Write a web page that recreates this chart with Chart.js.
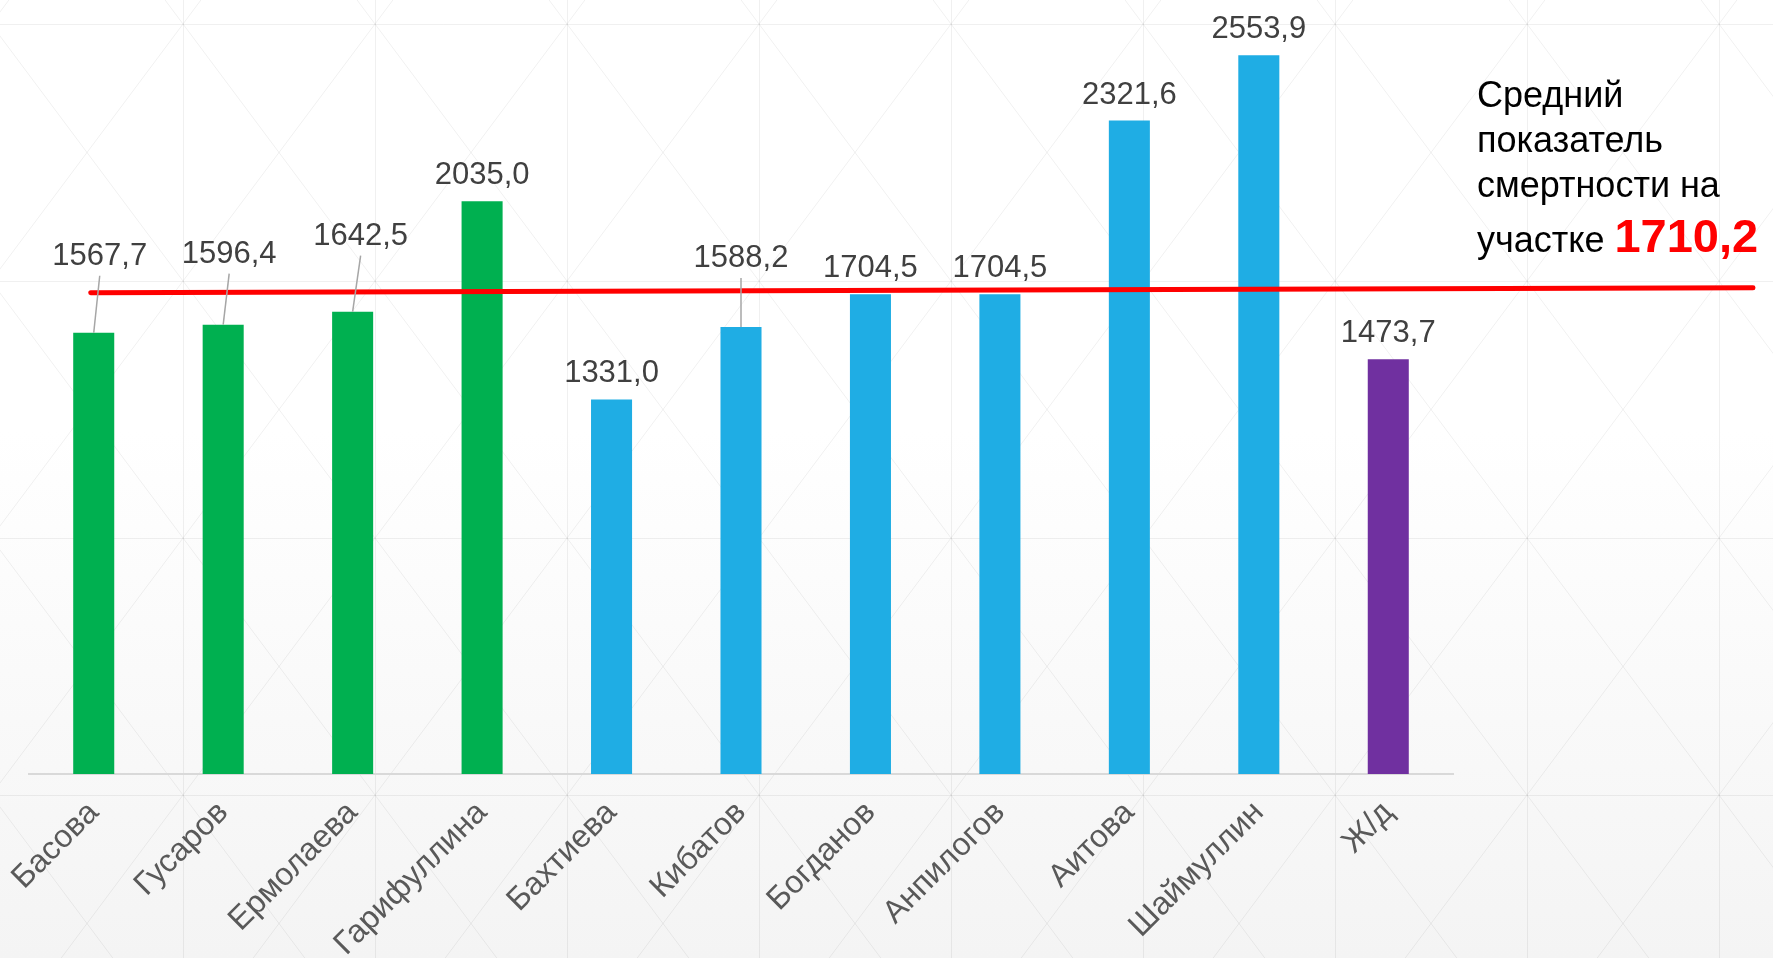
<!DOCTYPE html>
<html>
<head>
<meta charset="utf-8">
<script src="https://cdn.jsdelivr.net/npm/chart.js"></script>
<style>
  html, body { margin: 0; padding: 0; background: #fff; overflow: hidden; }
</style>
</head>
<body>
<canvas id="chart" width="1773" height="958"></canvas>
<script>
// данные с диаграммы
const names = ['Басова', 'Гусаров', 'Ермолаева', 'Гарифуллина', 'Бахтиева', 'Кибатов', 'Богданов', 'Анпилогов', 'Аитова', 'Шаймуллин', 'Ж/д'];
const values = [1567.7, 1596.4, 1642.5, 2035.0, 1331.0, 1588.2, 1704.5, 1704.5, 2321.6, 2553.9, 1473.7];
const barColors = ['#00B050', '#00B050', '#00B050', '#00B050', '#1FADE4', '#1FADE4', '#1FADE4', '#1FADE4', '#1FADE4', '#1FADE4', '#7030A0'];
const average = 1710.2;
const averageText = ['Средний', 'показатель', 'смертности на', 'участке'];

// подписи, вынесенные над красной линией (индекс: сдвиг по x, подъём над столбцом)
const callouts = { 0: [6, 68], 1: [6, 62], 2: [8, 67], 5: [0, 60] };

const fmt = v => v.toFixed(1).replace('.', ',');
const FONT = '"Liberation Sans", Arial, sans-serif';

const background = {
  id: 'background',
  beforeDraw(chart) {
    const { ctx, width, height } = chart;
    ctx.save();
    const g = ctx.createLinearGradient(0, 0, 0, height);
    g.addColorStop(0, '#ffffff');
    g.addColorStop(0.45, '#ffffff');
    g.addColorStop(1, '#f4f4f4');
    ctx.fillStyle = g;
    ctx.fillRect(0, 0, width, height);
    // светлая решётка из треугольников
    const cw = 192, ch = 257, x0 = -9, y0 = 24;
    ctx.strokeStyle = 'rgba(0,0,0,0.06)';
    ctx.lineWidth = 1;
    ctx.beginPath();
    for (let x = x0; x <= width + cw; x += cw) {
      ctx.moveTo(x + 0.5, 0); ctx.lineTo(x + 0.5, height);
    }
    for (let y = y0 - ch; y <= height + ch; y += ch) {
      ctx.moveTo(0, y + 0.5); ctx.lineTo(width, y + 0.5);
      for (let x = x0 - cw; x <= width + cw; x += cw) {
        ctx.moveTo(x, y); ctx.lineTo(x + cw, y + ch);
        ctx.moveTo(x + cw, y); ctx.lineTo(x, y + ch);
      }
    }
    ctx.stroke();
    ctx.restore();
  }
};

const overlay = {
  id: 'overlay',
  afterDatasetsDraw(chart) {
    const { ctx, scales: { x, y } } = chart;
    const meta = chart.getDatasetMeta(0);
    ctx.save();

    // средняя линия
    const ly = y.getPixelForValue(average);
    ctx.strokeStyle = '#FF0000';
    ctx.lineWidth = 5;
    ctx.lineCap = 'round';
    ctx.beginPath();
    ctx.moveTo(x.getPixelForValue(0) - 3, ly);
    ctx.lineTo(chart.width - 20, ly - 5);
    ctx.stroke();

    // подписи значений
    ctx.font = '31px ' + FONT;
    ctx.fillStyle = '#404040';
    ctx.textAlign = 'center';
    ctx.textBaseline = 'alphabetic';
    meta.data.forEach((bar, i) => {
      const c = callouts[i];
      if (c) {
        const bx = bar.x + c[0], by = bar.y - c[1];
        ctx.fillText(fmt(values[i]), bx, by);
        ctx.strokeStyle = '#a6a6a6';
        ctx.lineWidth = 1.5;
        ctx.lineCap = 'butt';
        ctx.beginPath();
        ctx.moveTo(bx, by + 11);
        ctx.lineTo(bar.x, bar.y);
        ctx.stroke();
      } else {
        ctx.fillText(fmt(values[i]), bar.x, bar.y - 17);
      }
    });

    // текст справа
    const tx = chart.chartArea.right + 24;
    ctx.textAlign = 'left';
    ctx.fillStyle = '#000000';
    ctx.font = '36px ' + FONT;
    const base = [107, 152, 197, 252];
    averageText.forEach((t, i) => ctx.fillText(t, tx, base[i]));
    const w = ctx.measureText(averageText[3] + ' ').width;
    ctx.font = 'bold 47px ' + FONT;
    ctx.fillStyle = '#FF0000';
    ctx.fillText(fmt(average), tx + w, base[3]);
    ctx.restore();
  }
};

new Chart(document.getElementById('chart'), {
  type: 'bar',
  data: {
    labels: names,
    datasets: [{
      data: values,
      backgroundColor: barColors,
      borderWidth: 0,
      categoryPercentage: 1,
      barPercentage: 0.317
    }]
  },
  options: {
    responsive: false,
    animation: false,
    devicePixelRatio: 1,
    layout: { padding: { left: 29, right: 320, top: 0, bottom: 0 } },
    plugins: { legend: { display: false }, tooltip: { enabled: false } },
    scales: {
      x: {
        grid: { display: false, drawTicks: false },
        border: { display: true, color: '#d9d9d9', width: 2 },
        ticks: {
          autoSkip: false, minRotation: 45, maxRotation: 45, padding: 20,
          color: '#595959', font: { family: FONT, size: 32 }
        },
        afterFit: s => { s.height = 184; s.paddingLeft = 0; s.paddingRight = 0; }
      },
      y: { display: false, min: 0, max: 2750 }
    }
  },
  plugins: [background, overlay]
});
</script>
</body>
</html>
